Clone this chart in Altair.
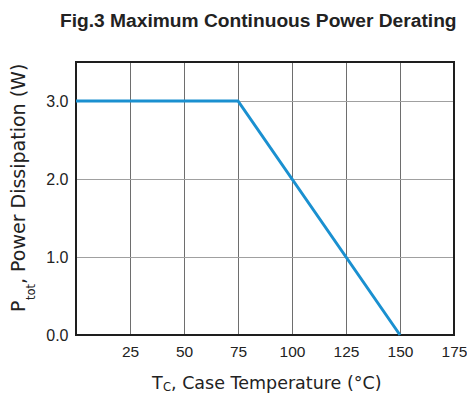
import altair as alt
import pandas as pd

# ---- data ----
temp_c = [0, 75, 150]
power_w = [3.0, 3.0, 0.0]
x_ticks = [0, 25, 50, 75, 100, 125, 150, 175]
y_ticks = [0.0, 0.5, 1.0, 1.5, 2.0, 2.5, 3.0, 3.5]
title_text = "Fig.3  Maximum Continuous Power Derating"
x_title_main = "T"
x_title_sub = "C"
x_title_rest = ", Case Temperature (°C)"
y_title_main = "P"
y_title_sub = "tot"
y_title_rest = ", Power Dissipation (W)"

W, H = 378, 273
df = pd.DataFrame({"Tc": temp_c, "P": power_w})

x_scale = alt.Scale(domain=[0, 175], nice=False, zero=False)
y_scale = alt.Scale(domain=[0, 3.5], nice=False)

x_axis = alt.Axis(
    values=x_ticks, title=None, grid=True, gridColor="#6e6e6e", gridWidth=1,
    domain=False, ticks=False, tickSize=0, labelPadding=9,
    labelFont="Liberation Sans", labelFontSize=15.5, labelColor="#222222",
    labelFlush=False, labelOverlap=False,
    labelExpr="datum.value == 0 ? '' : datum.label",
)
y_axis = alt.Axis(
    values=y_ticks, title=None, grid=True, gridColor="#a0a0a0", gridWidth=1,
    domain=False, ticks=False, tickSize=0, labelPadding=8,
    labelFont="Liberation Sans", labelFontSize=16, labelColor="#222222",
    labelOverlap=False,
    labelExpr="(datum.value % 1 == 0 && datum.value < 3.5) ? format(datum.value, '.1f') : ''",
)

grid_layer = alt.Chart(df).mark_line(opacity=0).encode(
    x=alt.X("Tc:Q", scale=x_scale, axis=x_axis),
    y=alt.Y("P:Q", scale=y_scale, axis=y_axis),
)

one = pd.DataFrame({"k": [0]})
frame = alt.Chart(one).mark_rect(fillOpacity=0, stroke="#1e1e1e", strokeWidth=2).encode(
    x=alt.value(0), x2=alt.value(W), y=alt.value(0), y2=alt.value(H)
)

line = alt.Chart(df).mark_line(color="#1a90d0", strokeWidth=3).encode(
    x=alt.X("Tc:Q", scale=x_scale),
    y=alt.Y("P:Q", scale=y_scale),
)


def txt(s, x, y, size, font="DejaVu Sans", weight="normal", angle=0, align="left"):
    return alt.Chart(pd.DataFrame({"t": [s]})).mark_text(
        font=font, fontSize=size, fontWeight=weight, angle=angle,
        align=align, baseline="alphabetic", color="#222222",
    ).encode(text="t:N", x=alt.value(x), y=alt.value(y))


title = txt(title_text, -16, -35, 19.2, font="Liberation Sans", weight="bold")

# x-axis title pieces
xt1 = txt(x_title_main, 76, 327, 17.5)
xt2 = txt(x_title_sub, 87, 329, 11.5)
xt3 = txt(x_title_rest, 95, 327, 17.5)

# y-axis title pieces (rotated, reading upward)
yt1 = txt(y_title_main, -51, 250, 19, angle=270)
yt2 = txt(y_title_sub, -41, 238, 11.5, angle=270)
yt3 = txt(y_title_rest, -51, 222, 19, angle=270)

chart = alt.layer(
    grid_layer, frame, line, title, xt1, xt2, xt3, yt1, yt2, yt3
).properties(
    width=W, height=H,
    padding={"left": 68, "top": 54, "right": 13, "bottom": 58},
    autosize=alt.AutoSizeParams(type="none"),
).configure_view(stroke=None)

chart.save("out.html", embed_options={"renderer": "svg", "actions": False})
